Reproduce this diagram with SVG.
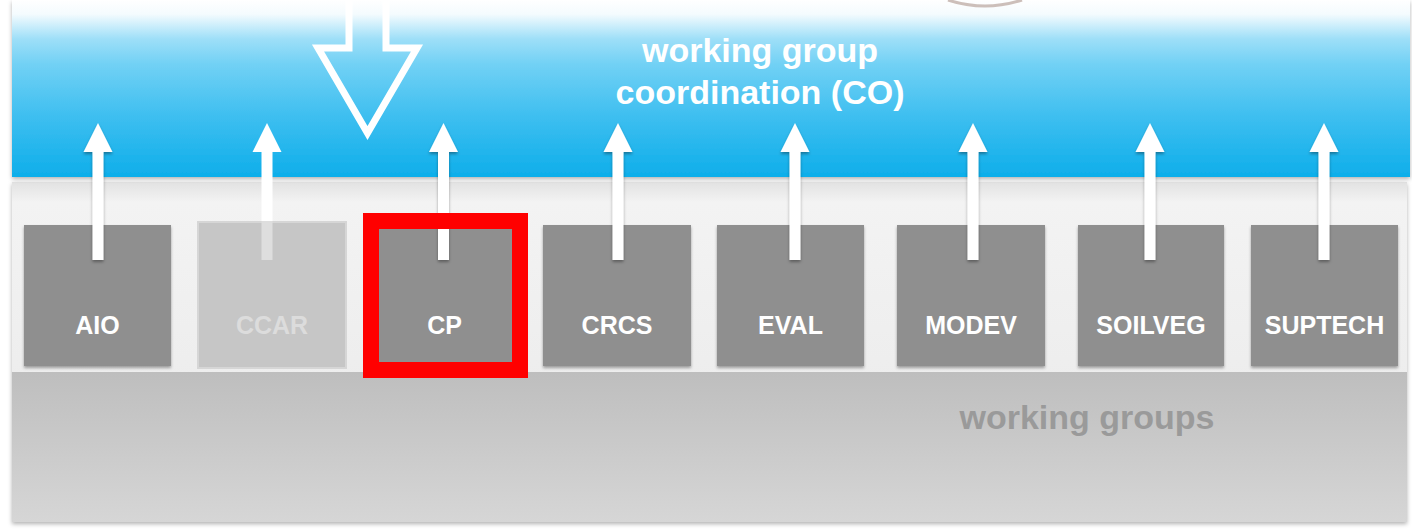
<svg xmlns="http://www.w3.org/2000/svg" width="1412" height="530" viewBox="0 0 1412 530">
<defs>
<linearGradient id="blueGrad" x1="0" y1="0" x2="0" y2="1">
<stop offset="0" stop-color="#ffffff"/>
<stop offset="0.08" stop-color="#f4fbfe"/>
<stop offset="0.22" stop-color="#9edff8"/>
<stop offset="0.36" stop-color="#72d1f5"/>
<stop offset="0.65" stop-color="#3fbff0"/>
<stop offset="1" stop-color="#0eaeea"/>
</linearGradient>
<linearGradient id="topGray" x1="0" y1="0" x2="0" y2="1">
<stop offset="0" stop-color="#e2e2e2"/>
<stop offset="0.06" stop-color="#f3f3f3"/>
<stop offset="0.8" stop-color="#ebebeb"/>
<stop offset="1" stop-color="#e0e0e0"/>
</linearGradient>
<linearGradient id="lowGray" x1="0" y1="0" x2="0" y2="1">
<stop offset="0" stop-color="#bebebe"/>
<stop offset="1" stop-color="#d6d6d6"/>
</linearGradient>
<filter id="shadow" x="-5%" y="-5%" width="110%" height="120%">
<feDropShadow dx="0" dy="2" stdDeviation="2" flood-color="#000000" flood-opacity="0.3"/>
</filter>
<filter id="shadowSm" x="-30%" y="-10%" width="160%" height="130%">
<feDropShadow dx="0" dy="2" stdDeviation="1.5" flood-color="#000000" flood-opacity="0.35"/>
</filter>
</defs>
<style>
.box{fill:#8f8f8f;}
.lbl{font-family:"Liberation Sans",Arial,sans-serif;font-weight:bold;font-size:25px;fill:#ffffff;text-anchor:middle;}
.big{font-family:"Liberation Sans",Arial,sans-serif;font-weight:bold;font-size:34px;text-anchor:middle;}
.arrow{fill:#ffffff;}
</style>
<rect width="1412" height="530" fill="#ffffff"/>

<g id="panel-working-groups">
<rect x="12" y="182" width="1395" height="340" fill="url(#topGray)" filter="url(#shadow)"/>
<rect x="12" y="372" width="1395" height="150" fill="url(#lowGray)"/>
<text class="big" x="1087" y="429" fill="#9a9a9a">working groups</text>
</g>

<g id="coordination">
<rect x="12" y="0" width="1398" height="177" fill="url(#blueGrad)" filter="url(#shadow)"/>
<text class="big" x="760" y="62" fill="#ffffff">working group</text>
<text class="big" x="760" y="104" fill="#ffffff">coordination (CO)</text>
<path d="M349,-5 L349,48 L318,48 L367.5,133 L417,48 L386,48 L386,-5" fill="none" stroke="#ffffff" stroke-width="7" stroke-linejoin="miter"/>
</g>
<path d="M948,0 Q985,12 1022,0" fill="none" stroke="#b8a49c" stroke-width="3" opacity="0.7"/>

<g id="node-AIO"><rect class="box" x="24" y="225" width="147" height="141" filter="url(#shadowSm)"/><text class="lbl" x="97.5" y="334">AIO</text></g>
<g id="node-CCAR"><rect x="197" y="221" width="150" height="148" fill="#d6d6d6"/><rect x="199" y="223" width="146" height="144" fill="#c6c6c6"/><text class="lbl" x="272" y="334" style="fill:#dcdcdc">CCAR</text></g>
<g id="node-CP"><rect class="box" x="371" y="225" width="147" height="141"/><text class="lbl" x="444.5" y="334">CP</text></g>
<g id="node-CRCS"><rect class="box" x="543" y="225" width="148" height="141" filter="url(#shadowSm)"/><text class="lbl" x="617" y="334">CRCS</text></g>
<g id="node-EVAL"><rect class="box" x="717" y="225" width="147" height="141" filter="url(#shadowSm)"/><text class="lbl" x="790.5" y="334">EVAL</text></g>
<g id="node-MODEV"><rect class="box" x="897" y="225" width="148" height="141" filter="url(#shadowSm)"/><text class="lbl" x="971" y="334">MODEV</text></g>
<g id="node-SOILVEG"><rect class="box" x="1078" y="225" width="146" height="141" filter="url(#shadowSm)"/><text class="lbl" x="1151" y="334">SOILVEG</text></g>
<g id="node-SUPTECH"><rect class="box" x="1251" y="225" width="147" height="141" filter="url(#shadowSm)"/><text class="lbl" x="1324.5" y="334">SUPTECH</text></g>

<g id="connectors">
<path class="arrow" filter="url(#shadowSm)" d="M98,123 L112.5,152 L103.5,152 L103.5,260 L92.5,260 L92.5,152 L83.5,152 Z"/>
<path class="arrow" d="M267,123 L281.5,152 L272.5,152 L272.5,221 L261.5,221 L261.5,152 L252.5,152 Z"/>
<rect x="261.5" y="221" width="11" height="39" fill="#dedede"/>
<path class="arrow" filter="url(#shadowSm)" d="M443.5,123 L458,152 L449,152 L449,260 L438,260 L438,152 L429,152 Z"/>
<path class="arrow" filter="url(#shadowSm)" d="M618,123 L632.5,152 L623.5,152 L623.5,260 L612.5,260 L612.5,152 L603.5,152 Z"/>
<path class="arrow" filter="url(#shadowSm)" d="M795,123 L809.5,152 L800.5,152 L800.5,260 L789.5,260 L789.5,152 L780.5,152 Z"/>
<path class="arrow" filter="url(#shadowSm)" d="M973,123 L987.5,152 L978.5,152 L978.5,260 L967.5,260 L967.5,152 L958.5,152 Z"/>
<path class="arrow" filter="url(#shadowSm)" d="M1150,123 L1164.5,152 L1155.5,152 L1155.5,260 L1144.5,260 L1144.5,152 L1135.5,152 Z"/>
<path class="arrow" filter="url(#shadowSm)" d="M1324,123 L1338.5,152 L1329.5,152 L1329.5,260 L1318.5,260 L1318.5,152 L1309.5,152 Z"/>
</g>

<g id="highlight">
<rect x="371" y="221" width="149" height="149" fill="none" stroke="#ff0000" stroke-width="16"/>
</g>
</svg>
